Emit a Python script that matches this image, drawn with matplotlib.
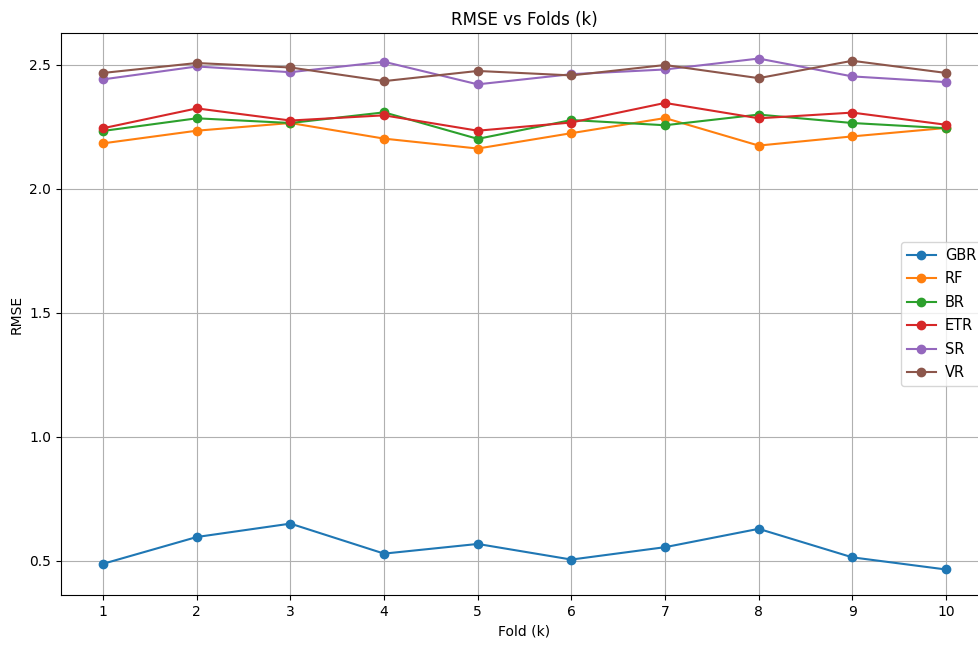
import numpy as np
import matplotlib
matplotlib.use("Agg")
import matplotlib.pyplot as plt

folds = np.arange(1, 11)
gbr = [0.487, 0.595, 0.649, 0.528, 0.567, 0.504, 0.554, 0.628, 0.513, 0.464]
rf = [2.183, 2.234, 2.265, 2.202, 2.162, 2.224, 2.285, 2.174, 2.211, 2.245]
br = [2.233, 2.284, 2.265, 2.308, 2.201, 2.277, 2.256, 2.299, 2.265, 2.244]
etr = [2.244, 2.324, 2.275, 2.296, 2.234, 2.267, 2.346, 2.284, 2.307, 2.258]
sr = [2.441, 2.493, 2.470, 2.512, 2.421, 2.462, 2.481, 2.525, 2.453, 2.430]
vr = [2.467, 2.507, 2.489, 2.434, 2.475, 2.457, 2.499, 2.446, 2.516, 2.467]

models = ["GBR", "RF", "BR", "ETR", "SR", "VR"]
scores = [gbr, rf, br, etr, sr, vr]

fig = plt.figure(figsize=(9.79, 6.46), dpi=100)
ax = fig.add_axes([0.0623, 0.0789, 0.947, 0.870])

for name, vals in zip(models, scores):
    ax.plot(folds, vals, marker='o', label=name)

ax.set_title("RMSE vs Folds (k)")
ax.set_xlabel("Fold (k)")
ax.set_ylabel("RMSE")
ax.set_xticks(folds)
ax.grid(True)
# legend runs off the right edge, like the cropped original
ax.legend(loc='center left', bbox_to_anchor=(0.9061, 0.5), borderaxespad=0,
          fontsize=10.5, handlelength=2.0, handletextpad=0.6, labelspacing=0.58)

fig.savefig("out.png", dpi=100)
